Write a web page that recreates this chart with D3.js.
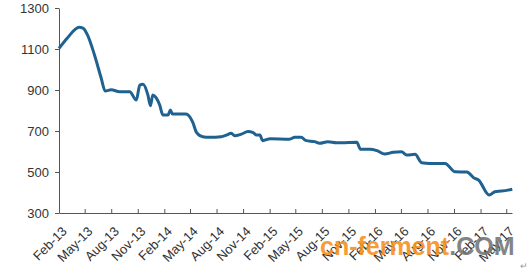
<!DOCTYPE html>
<html lang="en">
<head>
<meta charset="UTF-8">
<title>Price</title>
<script src="https://d3js.org/d3.v7.min.js"></script>
<style>
  body { margin: 0; background: #fff; }
  .axis path, .axis line { stroke: #555; }
  .axis text { fill: #333; font-family: "Liberation Sans", Arial, sans-serif; font-size: 13px; }
</style>
</head>
<body>
<script>
  const dates = ['2013-02-01','2013-03-02','2013-04-12','2013-04-25','2013-05-11','2013-06-04','2013-06-27','2013-07-11',
    '2013-08-01','2013-08-30','2013-10-04','2013-10-27','2013-11-08','2013-11-19','2013-12-06','2013-12-15','2013-12-23',
    '2014-01-04','2014-01-16','2014-01-27','2014-02-14','2014-02-22','2014-03-01','2014-04-17','2014-05-10','2014-05-24',
    '2014-06-14','2014-07-07','2014-08-17','2014-09-04','2014-09-21','2014-10-03','2014-10-26','2014-11-18','2014-12-06',
    '2014-12-17','2014-12-29','2015-01-08','2015-02-03','2015-04-11','2015-04-29','2015-05-21','2015-06-08','2015-07-07',
    '2015-07-24','2015-08-22','2015-09-21','2015-10-08','2015-11-30','2015-12-13','2016-01-15','2016-02-08','2016-03-06',
    '2016-04-04','2016-05-03','2016-05-21','2016-06-19','2016-07-12','2016-08-10','2016-10-01','2016-11-05','2016-12-16',
    '2017-01-08','2017-01-25','2017-03-03','2017-03-23','2017-04-15','2017-05-22'];
  const prices = [1103, 1154, 1206, 1202, 1168, 1071, 959, 895,
    901, 892, 892, 851, 924, 928, 876, 823, 876,
    862, 827, 778, 778, 802, 783, 783, 745, 692,
    672, 669, 672, 680, 689, 677, 685, 697, 692,
    680, 680, 653, 662, 660, 669, 669, 653, 648,
    640, 648, 643, 643, 645, 611, 611, 604, 588,
    596, 599, 583, 586, 545, 542, 542, 501, 500,
    472, 461, 388, 404, 407, 416];
  const xTicks = ['Feb-13','May-13','Aug-13','Nov-13','Feb-14','May-14','Aug-14','Nov-14','Feb-15',
    'May-15','Aug-15','Nov-15','Feb-16','May-16','Aug-16','Nov-16','Feb-17','May-17'];
  const yTicks = [300, 500, 700, 900, 1100, 1300];

  const width = 528, height = 271;
  const plot = { left: 59, right: 512, top: 8, bottom: 213 };

  const parseDay = d3.timeParse('%Y-%m-%d');
  const parseTick = d3.timeParse('%b-%y');
  const data = dates.map((d, i) => ({ date: parseDay(d), value: prices[i] }));

  const svg = d3.select('body').append('svg').attr('width', width).attr('height', height);

  const x = d3.scaleTime()
    .domain([parseDay('2013-02-01'), parseDay('2017-05-21')])
    .range([plot.left, plot.right]);
  const y = d3.scaleLinear().domain([300, 1300]).range([plot.bottom, plot.top]);

  svg.append('g').attr('class', 'axis')
    .attr('transform', `translate(${plot.left},0)`)
    .call(d3.axisLeft(y).tickValues(yTicks).tickSize(4).tickSizeOuter(0).tickPadding(6)
      .tickFormat(d3.format('d')));

  const xAxis = svg.append('g').attr('class', 'axis')
    .attr('transform', `translate(0,${plot.bottom})`)
    .call(d3.axisBottom(x).tickValues(xTicks.map(parseTick)).tickSize(-4).tickSizeOuter(0)
      .tickFormat(d3.timeFormat('%b-%y')));
  xAxis.selectAll('text')
    .attr('text-anchor', 'end')
    .attr('dy', 0)
    .attr('transform', 'translate(6,17) rotate(-45)');

  const line = d3.line()
    .x(d => x(d.date))
    .y(d => y(d.value))
    .curve(d3.curveMonotoneX);

  svg.append('path').datum(data)
    .attr('d', line)
    .attr('fill', 'none')
    .attr('stroke', '#1f6190')
    .attr('stroke-width', 3)
    .attr('stroke-linejoin', 'round');

  // watermark
  const wm = svg.append('text')
    .attr('x', 320).attr('y', 255)
    .attr('font-family', '"Liberation Sans", Arial, sans-serif')
    .attr('font-weight', 'bold')
    .attr('font-size', 25)
    .attr('opacity', 0.9);
  wm.append('tspan').attr('fill', '#f7921e').text('cn-ferment');
  wm.append('tspan').attr('fill', '#777').text('.COM');

  svg.append('text').attr('x', 520).attr('y', 269)
    .attr('font-size', 9).attr('fill', '#999').text('↵');
</script>
</body>
</html>
